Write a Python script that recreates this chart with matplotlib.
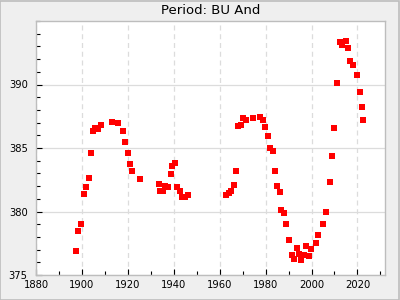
import matplotlib
matplotlib.use("Agg")
import matplotlib.pyplot as plt
from matplotlib.ticker import MultipleLocator
from matplotlib.patches import Rectangle

years = [1897.5, 1898.4, 1899.4, 1900.7, 1901.6, 1902.9, 1903.8, 1904.7, 1905.9, 1906.8,
         1908.1, 1913.3, 1915.5, 1917.7, 1918.6, 1919.9, 1920.8, 1921.6, 1925.1, 1933.4,
         1934.2, 1935.5, 1936.4, 1937.3, 1938.6, 1939.4, 1940.7, 1941.6, 1942.9, 1943.8,
         1945.1, 1946.0, 1962.6, 1963.9, 1964.8, 1966.1, 1967.0, 1967.9, 1969.2, 1970.1,
         1971.4, 1974.4, 1977.4, 1978.7, 1979.6, 1980.9, 1981.8, 1983.1, 1984.0, 1984.8,
         1986.1, 1986.9, 1988.2, 1989.1, 1990.0, 1991.3, 1992.2, 1993.5, 1994.4, 1995.3,
         1996.6, 1997.4, 1998.8, 1999.7, 2001.8, 2002.7, 2004.8, 2006.5, 2007.9, 2008.7,
         2010.0, 2010.9, 2012.2, 2013.1, 2014.8, 2015.7, 2016.9, 2017.9, 2019.6, 2020.9,
         2021.8, 2022.6]
periods = [376.86, 378.50, 378.98, 381.34, 381.89, 382.60, 384.64, 386.37, 386.60, 386.52,
           386.84, 387.07, 387.00, 386.37, 385.50, 384.64, 383.77, 383.15, 382.52, 382.13,
           381.58, 381.65, 381.97, 381.89, 382.99, 383.62, 383.85, 381.89, 381.58, 381.18,
           381.18, 381.26, 381.26, 381.42, 381.58, 382.05, 383.15, 386.76, 386.84, 387.39,
           387.23, 387.39, 387.47, 387.23, 386.68, 385.97, 385.03, 384.80, 383.22, 381.97,
           381.50, 380.08, 379.85, 378.98, 377.73, 376.55, 376.23, 377.10, 376.63, 376.15,
           376.55, 377.25, 376.47, 377.02, 377.49, 378.12, 378.98, 380.00, 382.36, 384.40,
           386.60, 390.14, 393.36, 393.12, 393.44, 392.89, 391.87, 391.55, 390.77, 389.43,
           388.25, 387.23]
title = "Period: BU And"

fig = plt.figure(figsize=(4, 3), dpi=100, facecolor="#efefef")
fig.patches.append(Rectangle((0.001, 0.001), 0.997, 0.996, transform=fig.transFigure,
                             fill=False, edgecolor="#bdbdbd", linewidth=1.2))
ax = fig.add_axes([36/400, 25/300, 349/400, 254/300])
ax.set_facecolor("white")
ax.plot(years, periods, linestyle="none", marker="s", markersize=4.0,
        color="#ff0000", markeredgewidth=0)
ax.set_xlim(1880, 2032)
ax.set_ylim(375, 395)
ax.xaxis.set_major_locator(MultipleLocator(20))
ax.xaxis.set_minor_locator(MultipleLocator(10))
ax.yaxis.set_major_locator(MultipleLocator(5))
ax.yaxis.set_minor_locator(MultipleLocator(1))
ax.set_yticks([375, 380, 385, 390])
ax.tick_params(which="both", direction="in", labelsize=7.2, colors="black", width=0.8)
ax.tick_params(which="major", length=4)
ax.tick_params(which="minor", length=3)
ax.tick_params(axis="y", which="major", pad=6)
ax.xaxis.grid(True, which="major", linestyle=(0, (4, 3)), color="#dcdcdc", linewidth=0.9)
ax.yaxis.grid(True, which="major", linestyle="-", color="#dcdcdc", linewidth=0.9)
ax.set_axisbelow(True)
for s in ax.spines.values():
    s.set_color("#bdbdbd")
    s.set_linewidth(1.0)
ax.set_title(title, fontsize=9.5, pad=5)
fig.savefig("out.png", dpi=100, facecolor=fig.get_facecolor())
